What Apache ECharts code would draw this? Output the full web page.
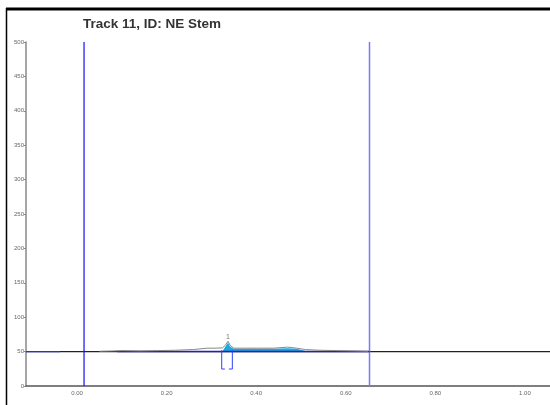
<!DOCTYPE html>
<html><head><meta charset="utf-8">
<script src="https://cdn.jsdelivr.net/npm/echarts@6/dist/echarts.min.js"></script>
<style>html,body{margin:0;padding:0;background:#fff}#c{width:550px;height:405px}</style>
</head><body><div id="c"></div>
<script>
const titleText = "Track 11, ID: NE Stem";
const xTickValues = [0, 0.2, 0.4, 0.6, 0.8, 1.0];
const xTickLabels = ["0.00", "0.20", "0.40", "0.60", "0.80", "1.00"];
const yTickValues = [0, 50, 100, 150, 200, 250, 300, 350, 400, 450, 500];
const baselineValue = 50;
const laneStart = 0.0156;
const laneEnd = 0.653;
// densitometry trace (Rf, intensity)
const traceRf = [0.05, 0.08, 0.10, 0.14, 0.18, 0.22, 0.26, 0.29, 0.31, 0.325, 0.332, 0.337, 0.342, 0.35, 0.37, 0.40, 0.44, 0.47, 0.49, 0.51, 0.54, 0.58, 0.62, 0.65];
const traceVal = [50.5, 51, 51.5, 51, 51.5, 52, 53, 55, 55, 55.5, 60, 65, 59, 55, 55, 55, 55, 56.5, 55, 53, 52, 51.5, 51, 50.5];
// filled band (peak 1 region)
const bandRf = [0.325, 0.332, 0.337, 0.342, 0.35, 0.37, 0.40, 0.44, 0.47, 0.49, 0.51];
const bandVal = [51, 58, 63, 57, 54, 54, 54, 54, 55, 54, 51];
const peakLabels = ["1"];
const peakRf = [0.337];
const peakVal = [65];
const bracketLeft = [[0.323, 52], [0.323, 24.7], [0.330, 24.7]];
const bracketRight = [[0.339, 24.7], [0.3467, 24.7], [0.3467, 52]];

const chart = echarts.init(document.getElementById('c'));
const xMin = -0.114, xMax = 1.056;
const trace = traceRf.map((x, i) => [x, traceVal[i]]);
const band = bandRf.map((x, i) => [x, bandVal[i]]);
chart.setOption({
  animation: false,
  title: {
    text: titleText, left: 78, top: 12,
    textStyle: {fontSize: 13.5, fontWeight: 'bold', color: '#333', fontFamily: 'Liberation Sans'}
  },
  grid: {left: 26, right: 0, top: 42, bottom: 19},
  xAxis: {
    type: 'value', min: xMin, max: xMax,
    splitLine: {show: false},
    axisLine: {lineStyle: {color: '#555', width: 1.5}, onZero: false},
    axisTick: {show: false},
    axisLabel: {
      customValues: xTickValues, fontSize: 6, color: '#666', margin: 4,
      formatter: v => { const i = xTickValues.findIndex(t => Math.abs(t - v) < 1e-9); return i >= 0 ? xTickLabels[i] : ''; }
    }
  },
  yAxis: {
    type: 'value', min: 0, max: 500, interval: 50,
    splitLine: {show: false},
    axisLine: {show: true, onZero: false, lineStyle: {color: '#888', width: 1.5}},
    axisTick: {show: true, length: 2, lineStyle: {color: '#888'}},
    axisLabel: {fontSize: 6, color: '#666', margin: 2}
  },
  series: [
    {type: 'line', data: [[xMin, baselineValue], [xMax, baselineValue]], symbol: 'none', lineStyle: {color: '#222', width: 1.2}, silent: true, z: 2},
    {type: 'line', data: [[laneStart, 0], [laneStart, 500]], symbol: 'none', lineStyle: {color: '#1010ff', width: 1.2}, z: 3},
    {type: 'line', data: [[laneEnd, 0], [laneEnd, 500]], symbol: 'none', lineStyle: {color: '#7777ff', width: 1.5}, z: 3},
    {type: 'line', data: [[xMin, baselineValue], [-0.038, baselineValue]], symbol: 'none', lineStyle: {color: '#2030e0', width: 1.2}, z: 3},
    {type: 'line', data: band, symbol: 'none', lineStyle: {width: 0}, areaStyle: {color: '#1aa9e0', opacity: 1, origin: baselineValue}, z: 3},
    {type: 'line', data: [[0.09, baselineValue], [laneEnd, baselineValue]], symbol: 'none', lineStyle: {color: '#2020c0', width: 1.5}, z: 4},
    {type: 'line', data: trace, symbol: 'none', lineStyle: {color: '#888', width: 1}, z: 5},
    {type: 'line', data: bracketLeft, symbol: 'none', lineStyle: {color: '#3040ff', width: 1}, z: 5},
    {type: 'line', data: bracketRight, symbol: 'none', lineStyle: {color: '#3040ff', width: 1}, z: 5},
    {type: 'scatter', data: peakRf.map((x, i) => ({value: [x, peakVal[i]], label: {formatter: peakLabels[i]}})),
     symbolSize: 0, label: {show: true, position: 'top', distance: 1, fontSize: 7, color: '#556'}, z: 6}
  ],
  graphic: [
    {type: 'line', shape: {x1: 6, y1: 9, x2: 550, y2: 9}, style: {stroke: '#000', lineWidth: 3}},
    {type: 'line', shape: {x1: 6.5, y1: 8, x2: 6.5, y2: 405}, style: {stroke: '#000', lineWidth: 1.5}}
  ]
});
</script></body></html>
